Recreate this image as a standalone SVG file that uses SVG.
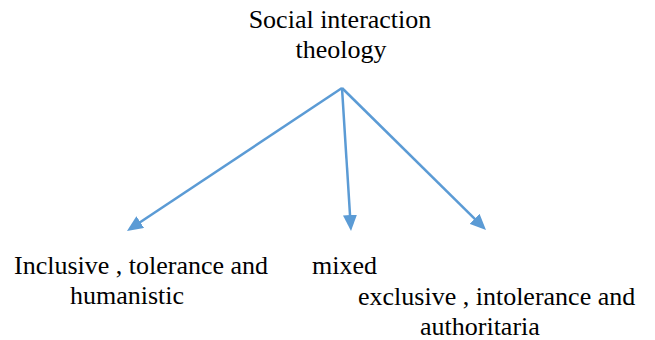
<svg xmlns="http://www.w3.org/2000/svg" width="655" height="340" viewBox="0 0 655 340">
  <style>
    text { font-family: 'Liberation Serif', 'Times New Roman', Tinos, 'DejaVu Serif', serif; font-size: 26px; fill: #000; }
    .conn { stroke: #5B9BD5; stroke-width: 2.5; fill: none; marker-end: url(#arrow); }
  </style>
  <defs>
    <marker id="arrow" markerUnits="userSpaceOnUse" viewBox="0 0 16 14" markerWidth="16" markerHeight="14" refX="12" refY="7" orient="auto">
      <path d="M0,0 L16,7 L0,14 z" fill="#5B9BD5"/>
    </marker>
  </defs>
  <rect width="655" height="340" fill="#ffffff"/>
  <g id="connectors">
    <line class="conn" x1="342" y1="88" x2="130.3" y2="228.8"/>
    <line class="conn" x1="342" y1="88" x2="350.75" y2="227"/>
    <line class="conn" x1="342" y1="88" x2="483.15" y2="227.2"/>
  </g>
  <g id="root" font-family="Liberation Serif, Times New Roman, serif">
    <text x="340" y="28" text-anchor="middle">Social interaction</text>
    <text x="341" y="58" text-anchor="middle">theology</text>
  </g>
  <g id="inclusive">
    <text x="14" y="274">Inclusive , tolerance and</text>
    <text x="70" y="304">humanistic</text>
  </g>
  <g id="mixed">
    <text x="312" y="274">mixed</text>
  </g>
  <g id="exclusive">
    <text x="358" y="305">exclusive , intolerance and</text>
    <text x="420" y="335">authoritaria</text>
  </g>
</svg>
